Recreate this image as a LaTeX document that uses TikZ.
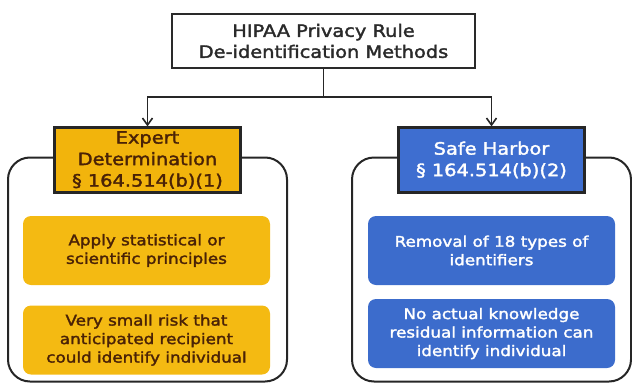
\documentclass[tikz,border=0pt]{standalone}
\usepackage{fontspec}
\setmainfont{DejaVu Sans}[FakeStretch=1.14, FakeBold=2]
\usetikzlibrary{arrows.meta}
\definecolor{hdrorange}{HTML}{F2B40C}
\definecolor{boxorange}{HTML}{F4BA12}
\definecolor{hdrblue}{HTML}{3E6ED0}
\definecolor{boxblue}{HTML}{3C6CCC}
\definecolor{brownink}{HTML}{4A2206}
\definecolor{darkink}{HTML}{2A2A2A}
\tikzset{
  rootbox/.style={draw=darkink, line width=2.4pt, fill=white, minimum width=303pt, minimum height=54pt,
    align=center, font=\fontsize{17}{21}\selectfont, text=darkink, inner sep=0pt},
  hdrbox/.style={draw=black!85, line width=2.2pt, minimum width=186pt, minimum height=65pt,
    align=center, font=\fontsize{17}{21.5}\selectfont, inner sep=0pt},
  frame/.style={draw=black!85, line width=2pt, rounded corners=22pt, minimum width=279pt, minimum height=224pt, inner sep=0pt},
  itembox/.style={rounded corners=8pt, minimum width=247pt, minimum height=69pt,
    align=center, font=\fontsize{14.7}{18.5}\selectfont, inner sep=0pt},
  link/.style={draw=black!85, line width=1.8pt},
  arrowlink/.style={link, -{Straight Barb[length=7pt,width=10pt,line width=1.6pt]}},
}
\begin{document}
\begin{tikzpicture}[x=1pt,y=-1pt]
  \useasboundingbox (0,0) rectangle (632,383);
  % grouping frames behind the method headers
  \node[frame] (lframe) at (147.5,269.5) {};
  \node[frame] (rframe) at (491.5,269.5) {};
  % title
  \node[rootbox] (root) at (323.5,41) {HIPAA Privacy Rule\\De-identification Methods};
  % method headers
  \node[hdrbox, fill=hdrorange, text=brownink] (expert) at (147.5,160) {Expert\\Determination\\§ 164.514(b)(1)};
  \node[hdrbox, fill=hdrblue, text=white] (safe) at (491.5,160) {Safe Harbor\\§ 164.514(b)(2)};
  % items of each method
  \node[itembox, fill=boxorange, text=brownink] (e1) at (146.5,250.5) {Apply statistical or\\scientific principles};
  \node[itembox, fill=boxorange, text=brownink] (e2) at (146.5,340) {Very small risk that\\anticipated recipient\\could identify individual};
  \node[itembox, fill=boxblue, text=white] (s1) at (491.5,250.5) {Removal of 18 types of\\identifiers};
  \node[itembox, fill=boxblue, text=white] (s2) at (491.5,333.5) {No actual knowledge\\residual information can\\identify individual};
  % connectors
  \coordinate (bus) at (root.south |- 0,97);
  \draw[link] (root.south) -- (bus);
  \draw[arrowlink] (bus) -| (expert.north);
  \draw[arrowlink] (bus) -| (safe.north);
\end{tikzpicture}
\end{document}
